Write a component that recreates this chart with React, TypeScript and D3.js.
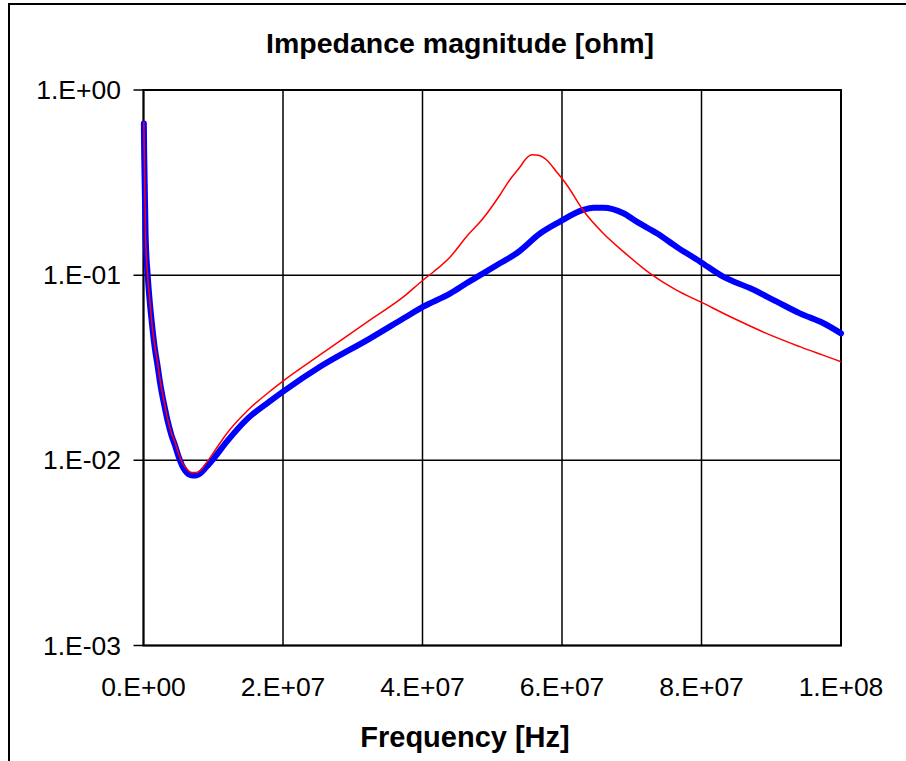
import React from "react";
import * as d3 from "d3";

// Frequency points (MHz) and impedance magnitude (ohm) for each series
const redFreqMHz = [0.05, 0.1, 0.3, 0.6, 0.9, 1.2, 1.6, 2.0, 2.5, 3.0, 3.5, 4.0, 4.5, 5.0, 5.5, 6.0, 6.5, 7.0, 7.5, 8.0, 9.0, 10, 12, 15, 18, 20, 25.3, 32.5, 37.3, 40.1, 41.6, 44, 46.3, 48.7, 51.1, 52.5, 54, 54.9, 55.7, 56.6, 57.8, 59.2, 60.7, 63, 65.9, 68.8, 72.6, 76.4, 79.8, 84.6, 89.3, 94.1, 100];
const redZ = [0.674, 0.474, 0.159, 0.099, 0.0734, 0.0552, 0.042, 0.034, 0.0255, 0.0204, 0.0165, 0.01406, 0.01256, 0.01096, 0.0098, 0.0092, 0.00875, 0.00859, 0.00859, 0.00871, 0.00968, 0.01096, 0.01406, 0.0187, 0.0234, 0.0268, 0.0371, 0.0573, 0.0765, 0.0942, 0.1044, 0.1259, 0.1614, 0.2028, 0.271, 0.3266, 0.3853, 0.428, 0.447, 0.444, 0.4188, 0.3622, 0.3069, 0.2249, 0.1683, 0.134, 0.1023, 0.0831, 0.0719, 0.0585, 0.0485, 0.0411, 0.0341];

const blueFreqMHz = [0.05, 0.1, 0.3, 0.6, 0.9, 1.2, 1.6, 2.0, 2.5, 3.0, 3.5, 4.0, 4.5, 5.0, 5.5, 6.0, 6.5, 7.0, 7.5, 8.0, 9.0, 10, 12, 15, 18, 20, 25.3, 32.5, 37.3, 40.1, 44, 46.3, 48.7, 51.1, 53.5, 56.9, 59.7, 63, 64.5, 65.9, 68.8, 70.7, 73.6, 76.4, 79.8, 83.1, 87, 90.8, 94.1, 97.5, 100];
const blueZ = [0.66, 0.446, 0.165, 0.1002, 0.0716, 0.0552, 0.0409, 0.0327, 0.0246, 0.0197, 0.0161, 0.0137, 0.0121, 0.01055, 0.00944, 0.00875, 0.00839, 0.00828, 0.00828, 0.00844, 0.0092, 0.01017, 0.0127, 0.0169, 0.0207, 0.0235, 0.032, 0.0456, 0.0585, 0.0676, 0.0798, 0.0904, 0.1023, 0.1159, 0.1313, 0.1683, 0.1945, 0.2249, 0.2314, 0.2314, 0.216, 0.1945, 0.1683, 0.1425, 0.1183, 0.0981, 0.0849, 0.0719, 0.0622, 0.055, 0.0485];

const xTicks = [0, 2e7, 4e7, 6e7, 8e7, 1e8];
const xTickLabels = ["0.E+00", "2.E+07", "4.E+07", "6.E+07", "8.E+07", "1.E+08"];
const yTicks = [1e-3, 1e-2, 1e-1, 1];
const yTickLabels = ["1.E-03", "1.E-02", "1.E-01", "1.E+00"];

const title = "Impedance magnitude [ohm]";
const xTitle = "Frequency [Hz]";

const W = 906;
const H = 761;
const left = 143.5;
const right = 841;
const top = 90;
const bottom = 645.5;

export default function App() {
  const x = d3.scaleLinear().domain([0, 1e8]).range([left, right]);
  const y = d3.scaleLog().domain([1e-3, 1]).range([bottom, top]);
  const gen = d3
    .line<[number, number]>()
    .x((d) => x(d[0]))
    .y((d) => y(d[1]))
    .curve(d3.curveMonotoneX);
  const red = redFreqMHz.map((f, i) => [f * 1e6, redZ[i]] as [number, number]);
  const blue = blueFreqMHz.map((f, i) => [f * 1e6, blueZ[i]] as [number, number]);
  const font = "'Liberation Sans', Arial, sans-serif";

  return (
    <svg
      width={W}
      height={H}
      style={{ position: "absolute", left: 0, top: 0, background: "#fff" }}
    >
      <rect x={0} y={0} width={W} height={H} fill="#fff" />
      {/* outer chart border */}
      <rect x={9} y={4} width={W + 20} height={H + 20} fill="none" stroke="#000" strokeWidth={2} />
      <text x={460} y={53} textAnchor="middle" fontFamily={font} fontWeight="bold" fontSize={28.5}>
        {title}
      </text>
      {/* grid */}
      {xTicks.map((t, i) => (
        <line key={"gx" + i} x1={x(t)} x2={x(t)} y1={top} y2={bottom} stroke="#000" strokeWidth={1.5} />
      ))}
      {yTicks.map((t, i) => (
        <line key={"gy" + i} x1={left - 10} x2={right} y1={y(t)} y2={y(t)} stroke="#000" strokeWidth={1.5} />
      ))}
      <rect x={left} y={top} width={right - left} height={bottom - top} fill="none" stroke="#000" strokeWidth={2} />
      {/* series */}
      <path d={gen(blue) || ""} fill="none" stroke="#0000ff" strokeWidth={6} strokeLinejoin="round" strokeLinecap="round" />
      <path d={gen(red) || ""} fill="none" stroke="#ff0000" strokeWidth={1.5} strokeLinejoin="round" />
      {/* tick labels */}
      {yTicks.map((t, i) => (
        <text key={"ly" + i} x={121} y={y(t) + 9} textAnchor="end" fontFamily={font} fontSize={26.5}>
          {yTickLabels[i]}
        </text>
      ))}
      {xTicks.map((t, i) => (
        <text key={"lx" + i} x={x(t)} y={696} textAnchor="middle" fontFamily={font} fontSize={26.5}>
          {xTickLabels[i]}
        </text>
      ))}
      <text x={465} y={747} textAnchor="middle" fontFamily={font} fontWeight="bold" fontSize={29}>
        {xTitle}
      </text>
    </svg>
  );
}
